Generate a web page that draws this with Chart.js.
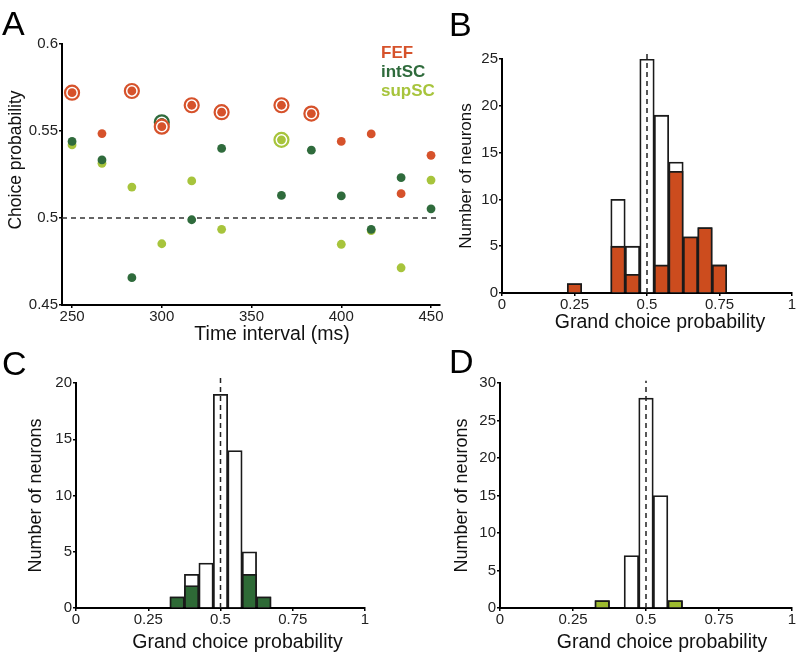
<!DOCTYPE html>
<html lang="en">
<head>
<meta charset="UTF-8">
<title>Choice probability</title>
<script src="https://cdn.jsdelivr.net/npm/chart.js"></script>
<style>
    body { margin: 0; background: #fff; }
    #wrap { position: relative; width: 799px; height: 653px; }
    .panel { position: absolute; }
</style>
</head>
<body>
<div id="wrap">
    <div class="panel" style="left:0;top:0;width:450px;height:345px"><canvas id="chartA"></canvas></div>
    <div class="panel" style="left:440px;top:0;width:359px;height:345px"><canvas id="chartB"></canvas></div>
    <div class="panel" style="left:0;top:345px;width:440px;height:308px"><canvas id="chartC"></canvas></div>
    <div class="panel" style="left:440px;top:345px;width:359px;height:308px"><canvas id="chartD"></canvas></div>
</div>
<script>
// ---- panel A : choice probability per time interval ----
var times = [250, 266.67, 283.33, 300, 316.67, 333.33, 366.67, 383.33, 400, 416.67, 433.33, 450];
var fef   = [0.572, 0.5485, 0.573, 0.5525, 0.5648, 0.5608, 0.5648, 0.560, 0.544, 0.5483, 0.514, 0.536];
var intsc = [0.544, 0.5334, 0.4657, 0.555, 0.499, 0.540, 0.513, 0.539, 0.5127, 0.4935, 0.5232, 0.5053];
var supsc = [0.542, 0.5314, 0.5178, 0.4852, 0.5213, 0.4935, 0.5449, null, 0.4849, 0.4927, 0.4714, 0.5218];
// 1 = significant (circled)
var fefSig = [1, 0, 1, 1, 1, 1, 1, 1, 0, 0, 0, 0];
var intSig = [0, 0, 0, 1, 0, 0, 0, 0, 0, 0, 0, 0];
var supSig = [0, 0, 0, 0, 0, 0, 1, 0, 0, 0, 0, 0];
var seriesNames = ['FEF', 'intSC', 'supSC'];
var xTicksA = [250, 300, 350, 400, 450];
var yTicksA = [0.45, 0.5, 0.55, 0.6];
var xMinA = 244.4, xMaxA = 455;
var chance = 0.5;

// ---- panels B, C, D : grand choice probability histograms ----
var binsB  = [0.25, 0.4, 0.45, 0.5, 0.55, 0.6, 0.65, 0.7, 0.75];
var totalB = [1, 10, 5, 25, 19, 14, 6, 7, 3];
var sigB   = [1, 5, 2, 0, 3, 13, 6, 7, 3];

var binsC  = [0.35, 0.4, 0.45, 0.5, 0.55, 0.6, 0.65];
var totalC = [1, 3, 4, 19, 14, 5, 1];
var sigC   = [1, 2, 0, 0, 0, 3, 1];

var binsD  = [0.35, 0.45, 0.5, 0.55, 0.6];
var totalD = [1, 7, 28, 15, 1];
var sigD   = [1, 0, 0, 0, 1];

var cFEF = '#d6522b', cINT = '#2f6b3c', cSUP = '#a7c43c';
var barFEF = '#cc4c1e', barINT = '#2e6a36', barSUP = '#9dbb2f';

Chart.defaults.font.family = '"Liberation Sans", Arial, sans-serif';
Chart.defaults.color = '#222';

// letters, legends and offset axis titles
var panelText = {
    id: 'panelText',
    afterDraw: function(chart, args, o) {
        var ctx = chart.ctx, a = chart.chartArea;
        ctx.save();
        ctx.fillStyle = '#000';
        ctx.textBaseline = 'alphabetic';
        ctx.textAlign = 'left';
        ctx.font = '34px "Liberation Sans", Arial';
        ctx.fillText(o.letter, o.lx, o.ly);

        ctx.textAlign = 'center';
        ctx.fillStyle = '#111';
        ctx.font = o.xSize + 'px "Liberation Sans", Arial';
        ctx.fillText(o.xTitle, (a.left + a.right) / 2 + o.xDx, o.xY);

        if (o.yTitle) {
            ctx.save();
            ctx.translate(o.yX, o.yY);
            ctx.rotate(-Math.PI / 2);
            ctx.textBaseline = 'middle';
            ctx.font = o.ySize + 'px "Liberation Sans", Arial';
            ctx.fillText(o.yTitle, 0, 0);
            ctx.restore();
        }
        if (o.legend) {
            ctx.textAlign = 'left';
            ctx.font = 'bold 17px "Liberation Sans", Arial';
            o.legend.forEach(function(item, i) {
                ctx.fillStyle = item.color;
                ctx.fillText(item.text, o.legendX, o.legendY + i * 19);
            });
        }
        ctx.restore();
    }
};

function pts(vals, sig) {
    var out = [];
    times.forEach(function(t, i) {
        if (vals[i] === null) return;
        if (sig && !sig[i]) return;
        out.push({x: t, y: vals[i]});
    });
    return out;
}

function dots(vals, color, order) {
    return {data: pts(vals), backgroundColor: color, pointRadius: 4.4, pointHoverRadius: 4.4,
            pointBorderWidth: 0, order: order};
}
function rings(vals, sig, color, order) {
    return {data: pts(vals, sig), backgroundColor: '#fff', borderColor: color, pointRadius: 7,
            pointHoverRadius: 7, pointBorderWidth: 2.2, order: order};
}

var tickGrid = {drawOnChartArea: false, drawTicks: true, tickLength: 3, color: '#000', lineWidth: 1.5};
var axisBorder = {display: true, color: '#000', width: 2};
var tickFont = {size: 15};

new Chart(document.getElementById('chartA'), {
    type: 'scatter',
    data: {
        datasets: [
            dots(fef, cFEF, 0), rings(fef, fefSig, cFEF, 1),
            dots(intsc, cINT, 2), rings(intsc, intSig, cINT, 3),
            dots(supsc, cSUP, 4), rings(supsc, supSig, cSUP, 5),
            {data: [{x: xMinA, y: chance}, {x: xMaxA, y: chance}], showLine: true, pointRadius: 0,
             borderColor: '#333', borderWidth: 1.3, borderDash: [5, 4], order: 6}
        ]
    },
    options: {
        responsive: true, maintainAspectRatio: false, animation: false, events: [],
        layout: {padding: {top: 44, right: 10, left: 0, bottom: 0}},
        plugins: {
            legend: {display: false}, tooltip: {enabled: false},
            panelText: {
                letter: 'A', lx: 2, ly: 35,
                xTitle: 'Time interval (ms)', xDx: 21, xY: 340, xSize: 19.5,
                yTitle: 'Choice probability', yX: 16, yY: 160, ySize: 17.5,
                legendX: 381, legendY: 58,
                legend: [{text: seriesNames[0], color: cFEF}, {text: seriesNames[1], color: cINT},
                         {text: seriesNames[2], color: cSUP}]
            }
        },
        scales: {
            x: {
                type: 'linear', min: xMinA, max: xMaxA,
                grid: tickGrid, border: axisBorder,
                ticks: {font: tickFont, padding: 0, maxRotation: 0, callback: function(v) { return String(v); }},
                afterBuildTicks: function(ax) { ax.ticks = xTicksA.map(function(v) { return {value: v}; }); },
                afterFit: function(s) { s.height = 40; }
            },
            y: {
                type: 'linear', min: 0.45, max: 0.6,
                grid: tickGrid, border: axisBorder,
                ticks: {font: tickFont, padding: 1, callback: function(v) { return String(v); }},
                afterBuildTicks: function(ax) { ax.ticks = yTicksA.map(function(v) { return {value: v}; }); },
                afterFit: function(s) { s.width = 62; }
            }
        }
    },
    plugins: [panelText]
});

function histChart(id, bins, total, sig, fill, yMax, dashTop, o) {
    var totalPts = bins.map(function(b, i) { return {x: b, y: total[i]}; });
    var sigPts = [];
    bins.forEach(function(b, i) { if (sig[i] > 0) sigPts.push({x: b, y: sig[i]}); });
    return new Chart(document.getElementById(id), {
        type: 'bar',
        data: {
            datasets: [
                {data: sigPts, backgroundColor: fill, borderColor: '#1a1a1a', borderWidth: 1.8,
                 barPercentage: 1, categoryPercentage: 1, grouped: false, order: 1},
                {data: totalPts, backgroundColor: '#fff', borderColor: '#1a1a1a', borderWidth: 1.8,
                 barPercentage: 1, categoryPercentage: 1, grouped: false, order: 2},
                {type: 'line', data: [{x: chance, y: 0}, {x: chance, y: dashTop}], borderColor: '#222',
                 borderWidth: 1.5, borderDash: [5, 4], pointRadius: 0, fill: false, clip: false, order: 0}
            ]
        },
        options: {
            responsive: true, maintainAspectRatio: false, animation: false, events: [],
            layout: {padding: {top: o.top, right: o.right, left: 0, bottom: 0}},
            plugins: {
                legend: {display: false}, tooltip: {enabled: false},
                panelText: {letter: o.letter, lx: o.lx, ly: o.ly, xTitle: 'Grand choice probability',
                            xDx: o.xDx, xY: o.xY, xSize: 19.5}
            },
            scales: {
                x: {
                    type: 'linear', min: 0, max: 1, offset: false,
                    grid: Object.assign({offset: false}, tickGrid), border: axisBorder,
                    ticks: {stepSize: 0.25, font: tickFont, padding: 0, maxRotation: 0, autoSkip: false,
                            callback: function(v) { return String(v); }},
                    afterFit: function(s) { s.height = o.xH; }
                },
                y: {
                    type: 'linear', min: 0, max: yMax,
                    grid: tickGrid, border: axisBorder,
                    ticks: {stepSize: 5, font: tickFont, padding: 1},
                    title: {display: true, text: 'Number of neurons', color: '#111',
                            font: {size: o.ySize}, padding: {top: o.yPad, bottom: 0}},
                    afterFit: function(s) { s.width = o.yW; }
                }
            }
        },
        plugins: [panelText]
    });
}

histChart('chartB', binsB, totalB, sigB, barFEF, 25, 25.8,
    {top: 59, right: 7, xH: 52, yW: 62, ySize: 17, yPad: 16, letter: 'B', lx: 9, ly: 36, xDx: 13, xY: 328});
histChart('chartC', binsC, totalC, sigC, barINT, 20, 20.6,
    {top: 38, right: 75, xH: 45, yW: 76, ySize: 18, yPad: 25, letter: 'C', lx: 2, ly: 30, xDx: 17, xY: 303});
histChart('chartD', binsD, totalD, sigD, barSUP, 30, 30.3,
    {top: 38, right: 7, xH: 45, yW: 60, ySize: 18, yPad: 11.5, letter: 'D', lx: 9, ly: 28, xDx: 16, xY: 303});
</script>
</body>
</html>
